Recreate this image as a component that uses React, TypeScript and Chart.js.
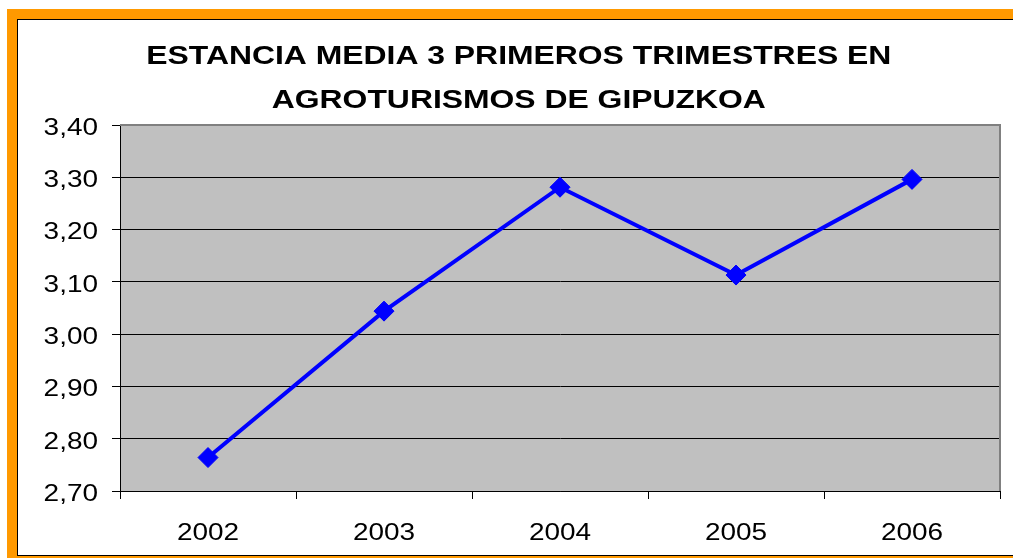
import React, { useEffect, useRef } from "react";
import { Chart, registerables } from "chart.js";

Chart.register(...registerables);

const categories = ["2002", "2003", "2004", "2005", "2006"];
const estanciaMedia = [2.764, 3.044, 3.281, 3.113, 3.296];
const titleLines = ["ESTANCIA MEDIA 3 PRIMEROS TRIMESTRES EN", "AGROTURISMOS DE GIPUZKOA"];
const yMin = 2.7;
const yMax = 3.4;
const yStep = 0.1;

const TITLE_FONT = "bold 25px 'Liberation Sans', Arial, Helvetica, sans-serif";
const TICK_FONT = "24px 'Liberation Sans', Arial, Helvetica, sans-serif";
const formatTick = (v: number) => Number(v).toFixed(2).replace(".", ",");

const plotDecor = {
  id: "plotDecor",
  beforeDraw(chart: any) {
    const { ctx, chartArea } = chart;
    if (!chartArea) return;
    ctx.save();
    ctx.fillStyle = "#C0C0C0";
    ctx.fillRect(chartArea.left, chartArea.top, chartArea.right - chartArea.left, chartArea.bottom - chartArea.top);
    ctx.restore();
  },
  beforeDatasetsDraw(chart: any) {
    const { ctx, chartArea } = chart;
    ctx.save();
    ctx.strokeStyle = "#808080";
    ctx.lineWidth = 2;
    ctx.beginPath();
    ctx.moveTo(chartArea.left, chartArea.top);
    ctx.lineTo(chartArea.right, chartArea.top);
    ctx.lineTo(chartArea.right, chartArea.bottom);
    ctx.stroke();
    ctx.restore();
  },
  afterDraw(chart: any) {
    const { ctx, chartArea } = chart;
    const xScale = chart.scales.x;
    const yScale = chart.scales.y;
    const tickStretch = 1.165;

    ctx.save();
    ctx.fillStyle = "#000000";

    // Title
    ctx.font = TITLE_FONT;
    ctx.textAlign = "center";
    ctx.textBaseline = "alphabetic";
    const centerX = 500.8;
    const baselines = [44.3, 87.7];
    titleLines.forEach((line, i) => {
      ctx.save();
      ctx.translate(centerX, baselines[i]);
      ctx.scale(1.275, 1);
      ctx.fillText(line, 0, 0);
      ctx.restore();
    });

    // Y tick labels
    ctx.font = TICK_FONT;
    ctx.textAlign = "right";
    yScale.ticks.forEach((t: any) => {
      const y = yScale.getPixelForValue(t.value);
      ctx.save();
      ctx.translate(chartArea.left - 22, y + 9.8);
      ctx.scale(tickStretch, 1);
      ctx.fillText(formatTick(t.value), 0, 0);
      ctx.restore();
    });

    // X tick labels
    ctx.textAlign = "center";
    categories.forEach((label, i) => {
      const x = xScale.getPixelForTick(i);
      ctx.save();
      ctx.translate(x, chartArea.bottom + 49);
      ctx.scale(tickStretch, 1);
      ctx.fillText(label, 0, 0);
      ctx.restore();
    });
    ctx.restore();
  },
};

export default function App() {
  const ref = useRef<HTMLCanvasElement>(null);

  useEffect(() => {
    if (!ref.current) return;
    const chart = new Chart(ref.current, {
      type: "line",
      data: {
        labels: categories,
        datasets: [
          {
            data: estanciaMedia,
            borderColor: "#0000FF",
            backgroundColor: "#0000FF",
            borderWidth: 4,
            pointStyle: "rectRot",
            pointRadius: 10,
            pointBorderWidth: 1,
            pointBackgroundColor: "#0000FF",
            pointBorderColor: "#0000FF",
            tension: 0,
          },
        ],
      },
      options: {
        responsive: false,
        animation: false,
        devicePixelRatio: 1,
        layout: { padding: { left: 6, right: 13, top: 105, bottom: 0 } },
        plugins: {
          legend: { display: false },
          tooltip: { enabled: false },
          title: { display: false },
        },
        scales: {
          x: {
            type: "category",
            offset: true,
            afterFit(scale: any) {
              scale.height = 64;
            },
            grid: {
              display: true,
              offset: true,
              drawOnChartArea: false,
              drawTicks: true,
              tickLength: 8,
              tickColor: "#000000",
              tickWidth: 1,
            },
            border: { display: true, color: "#000000", width: 1 },
            ticks: { display: false },
          },
          y: {
            min: yMin,
            max: yMax,
            afterFit(scale: any) {
              scale.width = 96;
            },
            grid: {
              display: true,
              drawOnChartArea: true,
              drawTicks: true,
              tickLength: 8,
              tickColor: "#000000",
              color: (ctx: any) =>
                ctx.tick && Math.abs(ctx.tick.value - yMax) < 1e-6 ? "#808080" : "#000000",
              lineWidth: 1,
            },
            border: { display: true, color: "#000000", width: 1 },
            ticks: {
              display: false,
              stepSize: yStep,
              callback: (v: any) => formatTick(v),
            },
          },
        },
      },
      plugins: [plotDecor],
    });
    return () => chart.destroy();
  }, []);

  return (
    <div style={{ position: "absolute", left: 0, top: 0, width: 1013, height: 558, overflow: "hidden", background: "#FFFFFF" }}>
      <div style={{ position: "absolute", left: 7, top: 9, width: 1100, height: 560, background: "#FF9900" }} />
      <div
        style={{
          position: "absolute",
          left: 17,
          top: 19,
          width: 1100,
          height: 535,
          background: "#FFFFFF",
          borderLeft: "1px solid #000000",
          borderTop: "1px solid #000000",
          borderBottom: "1px solid #000000",
        }}
      />
      <canvas ref={ref} width={995} height={535} style={{ position: "absolute", left: 18, top: 20, width: 995, height: 535 }} />
    </div>
  );
}
